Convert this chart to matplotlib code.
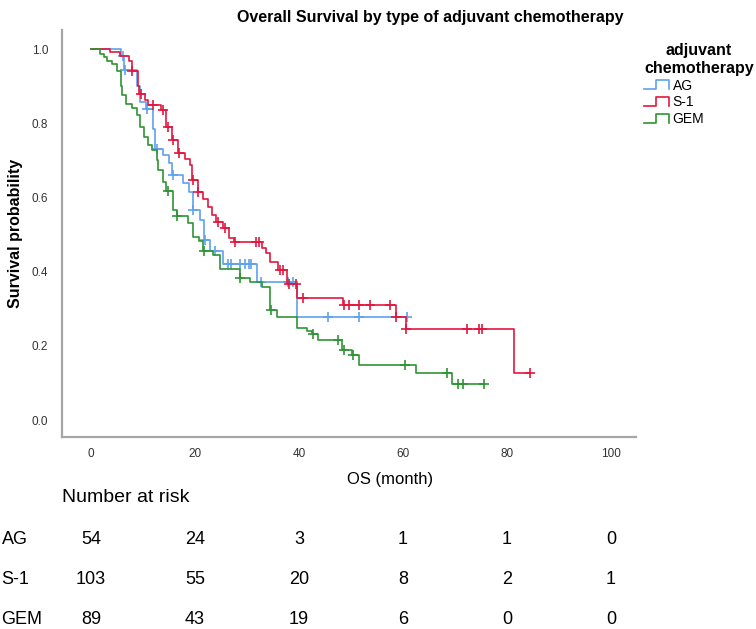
import matplotlib
matplotlib.use("Agg")
import matplotlib.pyplot as plt
import matplotlib.transforms as mtransforms
from matplotlib.legend_handler import HandlerBase
from matplotlib.lines import Line2D
import numpy as np

plt.rcParams['font.family'] = ['Liberation Sans', 'DejaVu Sans']

# Kaplan-Meier steps (event month, survival after it)
ag_time = [0, 5.7, 6.4, 8.8, 9.5, 10.5, 12.0, 12.3, 13.9, 14.9, 15.5, 17.7, 18.9, 19.6,
           21.0, 21.8, 22.9, 25.4, 31.9, 39.7]
ag_surv = [1.0, 0.981, 0.943, 0.90, 0.858, 0.838, 0.785, 0.732, 0.714, 0.692, 0.66, 0.638,
           0.616, 0.566, 0.539, 0.485, 0.456, 0.422, 0.371, 0.279]
ag_cens = [6.1, 6.6, 10.8, 12.7, 15.7, 19.7, 21.9, 23.8, 26.4, 26.9, 28.7, 29.6, 30.3, 30.8,
           32.7, 37.9, 38.9, 45.6, 51.6, 60.8]

s1_time = [0, 3.7, 5.6, 7.2, 7.8, 9.0, 9.3, 10.4, 11.0, 13.5, 14.5, 15.6, 16.8, 18.0, 19.0,
           19.5, 20.5, 21.5, 22.5, 23.3, 24.0, 25.3, 26.5, 27.5, 32.8, 33.7, 34.5, 36.0, 37.7,
           39.7, 48.5, 58.7, 60.6, 81.4]
s1_surv = [1.0, 0.991, 0.982, 0.968, 0.942, 0.90, 0.88, 0.862, 0.849, 0.836, 0.789, 0.755,
           0.72, 0.705, 0.687, 0.647, 0.616, 0.597, 0.575, 0.553, 0.535, 0.517, 0.49, 0.479,
           0.465, 0.451, 0.427, 0.404, 0.368, 0.33, 0.31, 0.278, 0.245, 0.126]
s1_cens = [7.9, 9.6, 11.9, 13.9, 14.7, 15.7, 17.0, 19.6, 20.6, 24.5, 25.8, 27.7, 31.7, 32.4,
           36.4, 36.9, 38.0, 39.5, 40.8, 48.6, 49.6, 51.6, 53.7, 57.5, 58.7, 60.6, 72.4, 74.6,
           75.3, 84.4]

gem_time = [0, 1.7, 2.4, 3.0, 4.0, 4.9, 5.8, 6.0, 6.8, 7.8, 8.8, 9.4, 10.1, 11.0, 11.7, 12.6,
            12.8, 13.8, 14.5, 15.8, 16.5, 18.7, 19.7, 20.7, 21.6, 23.5, 24.8, 28.6, 30.6, 32.8,
            34.5, 35.7, 39.6, 41.5, 42.5, 43.7, 48.2, 50.2, 51.6, 62.5, 69.5]
gem_surv = [1.0, 0.988, 0.979, 0.968, 0.96, 0.942, 0.90, 0.876, 0.853, 0.84, 0.822, 0.79,
            0.764, 0.741, 0.728, 0.70, 0.674, 0.642, 0.618, 0.566, 0.55, 0.53, 0.494, 0.482,
            0.456, 0.445, 0.407, 0.382, 0.373, 0.358, 0.297, 0.279, 0.247, 0.241, 0.232, 0.216,
            0.189, 0.175, 0.148, 0.126, 0.097]
gem_cens = [14.8, 16.6, 21.7, 28.7, 34.6, 42.7, 47.6, 48.7, 50.4, 60.4, 68.5, 70.6, 71.5, 75.5]

groups = ['AG', 'S-1', 'GEM']
colors = ['#5fa2ee', '#e3163f', '#2f9534']

# Number at risk table
risk_months = [0, 20, 40, 60, 80, 100]
risk_ag = [54, 24, 3, 1, 1, 0]
risk_s1 = [103, 55, 20, 8, 2, 1]
risk_gem = [89, 43, 19, 6, 0, 0]


class StepHandler(HandlerBase):
    """Little step-shaped legend key, as SPSS draws it."""
    def create_artists(self, legend, orig_handle, xdescent, ydescent, width, height,
                       fontsize, trans):
        xs = np.array([0, 0.45, 0.45, 1.0, 1.0]) * width - xdescent
        ys = np.array([0.1, 0.1, 0.9, 0.9, 0.1]) * height - ydescent
        key = Line2D(xs, ys, color=orig_handle.get_color(), lw=1.2, transform=trans)
        return [key]


def km_curve(ax, t, s, cens, color, label):
    t = np.array(t)
    s = np.array(s)
    end = max(cens[-1], t[-1])
    tt = np.append(t, end)
    ss = np.append(s, s[-1])
    line, = ax.step(tt, ss, where='post', color=color, lw=1.2, label=label)
    idx = np.searchsorted(t, cens, side='right') - 1
    ax.plot(cens, s[idx], ls='none', marker='+', ms=7, mew=1.2, color=color)
    return line


def plot_km():
    fig = plt.figure(figsize=(7.56, 6.29), dpi=100)
    ax = fig.add_axes([0.082, 0.305, 0.759, 0.647])

    handles = []
    handles.append(km_curve(ax, ag_time, ag_surv, ag_cens, colors[0], groups[0]))
    handles.append(km_curve(ax, s1_time, s1_surv, s1_cens, colors[1], groups[1]))
    handles.append(km_curve(ax, gem_time, gem_surv, gem_cens, colors[2], groups[2]))

    ax.set_xlim(-5.6, 104.8)
    ax.set_ylim(-0.046, 1.051)
    ax.set_xticks(risk_months)
    ax.set_yticks([0.0, 0.2, 0.4, 0.6, 0.8, 1.0])
    ax.set_yticklabels(['0.0', '0.2', '0.4', '0.6', '0.8', '1.0'])
    ax.tick_params(length=0, labelsize=8.5, labelcolor='#333333')
    ax.tick_params(axis='x', pad=8)
    ax.tick_params(axis='y', pad=10)
    for side in ['top', 'right']:
        ax.spines[side].set_visible(False)
    for side in ['left', 'bottom']:
        ax.spines[side].set_color('#a6a6a6')
        ax.spines[side].set_linewidth(1.6)

    ax.set_ylabel('Survival probability', fontsize=11.5, fontweight='bold', labelpad=6)
    ax.set_xlabel('OS (month)', fontsize=12)
    ax.xaxis.set_label_coords(0.571, -0.086)
    fig.text(0.569, 0.972, 'Overall Survival by type of adjuvant chemotherapy',
             ha='center', va='center', fontsize=11.5, fontweight='bold')

    leg = fig.legend(handles=handles, labels=groups, loc='upper left',
                     bbox_to_anchor=(0.843, 0.942), frameon=False, fontsize=10,
                     title='adjuvant\nchemotherapy',
                     title_fontproperties={'weight': 'bold', 'size': 11.5},
                     handler_map={Line2D: StepHandler()}, handlelength=1.8,
                     handleheight=0.9, handletextpad=0.25, labelspacing=0.2,
                     borderpad=0, alignment='left')
    leg.get_title().set_ha('center')

    # Number at risk rows, x from the axis months, y in figure fraction
    trans = mtransforms.blended_transform_factory(ax.transData, fig.transFigure)
    fig.text(0.082, 1 - 498 / 629, 'Number at risk', ha='left', va='center', fontsize=14)
    rows = [risk_ag, risk_s1, risk_gem]
    rows_y = [1 - 539 / 629, 1 - 580 / 629, 1 - 620 / 629]
    for name, counts, y in zip(groups, rows, rows_y):
        fig.text(0.002, y, name, ha='left', va='center', fontsize=13)
        for m, n in zip(risk_months, counts):
            ax.text(m, y, str(n), transform=trans, ha='center', va='center', fontsize=13,
                    clip_on=False)

    plt.savefig('out.png', dpi=100)


if __name__ == "__main__":
    plot_km()
